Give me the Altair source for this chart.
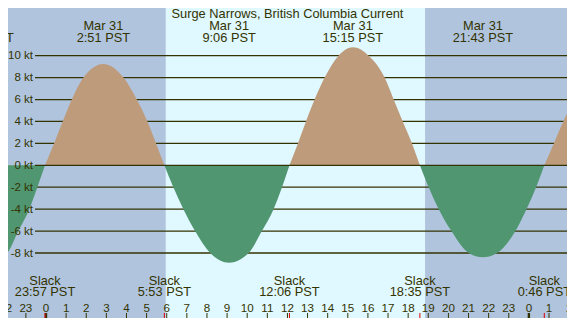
import altair as alt
import pandas as pd

# plot area = visible page area (575x326 window minus the 8px body margin on each side)
W, H = 559, 310
FONT = "Liberation Sans"
FS = 12.8
INK = "#333300"
NIGHT = "#B0C4DE"
DAY = "#E0F8FF"
FLOOD = "#BE9B7B"
EBB = "#509670"

TITLE = "Surge Narrows, British Columbia Current"

# hours since 00:00 Mar 31 (PST) and current speed (kt)
curve_t = [-3.1, -2.29, -1.93, -1.38, -0.83, -0.43, -0.05,
           0.40, 0.83, 1.28, 1.86, 2.85, 3.85, 4.51, 5.04, 5.47, 5.883,
           6.33, 6.83, 7.41, 8.16, 9.10, 10.07, 10.73, 11.31, 11.73, 12.10,
           12.52, 12.92, 13.35, 13.85, 14.54, 15.25, 16.04, 16.83, 17.28, 17.73, 18.19, 18.583,
           19.02, 19.52, 20.15, 21.01, 21.717, 22.42, 23.33, 23.88, 24.36, 24.767,
           25.24, 25.71, 26.27, 26.6]
curve_v = [-8.6, -8.34, -8.0, -6.0, -4.0, -2.0, 0.0,
           2, 4, 6, 8, 9.24, 8, 6, 4, 2, 0,
           -2, -4, -6, -8, -8.89, -8, -6, -4, -2, 0,
           2, 4, 6, 8, 10, 10.77, 10, 8, 6, 4, 2, 0,
           -2, -4, -6, -8, -8.39, -8, -6, -4, -2, 0,
           2, 4, 6, 7.1]

# extreme events (top labels)
ext_t = [-3.1, 2.85, 9.10, 15.25, 21.717]
ext_day = ["Mar 30", "Mar 31", "Mar 31", "Mar 31", "Mar 31"]
ext_time = ["20:54 PST", "2:51 PST", "9:06 PST", "15:15 PST", "21:43 PST"]

# slack events (bottom labels)
slack_t = [-0.05, 5.883, 12.10, 18.583, 24.767]
slack_time = ["23:57 PST", "5:53 PST", "12:06 PST", "18:35 PST", "0:46 PST"]

# daylight
sunrise = [5.95]
sunset = [18.84]

# speed grid
kt_levels = [10, 8, 6, 4, 2, 0, -2, -4, -6, -8]

# hour ticks
hour_t = [-2, -1, 0, 1, 2, 3, 4, 5, 6, 7, 8, 9, 10, 11, 12, 13, 14, 15, 16,
          17, 18, 19, 20, 21, 22, 23, 24, 25, 26]
hour_lab = ["22", "23", "0", "1", "2", "3", "4", "5", "6", "7", "8", "9", "10",
            "11", "12", "13", "14", "15", "16", "17", "18", "19", "20", "21",
            "22", "23", "0", "1", "2"]
midnight_t = [0, 24]

# ---- build tables ----
segs = [[]]
for t, v in zip(curve_t, curve_v):
    segs[-1].append((t, v))
    if v == 0:
        segs.append([(t, v)])
rows = []
for k, s in enumerate(segs):
    if len(s) < 2:
        continue
    kind = "flood" if max(v for _, v in s) > 0 else "ebb"
    for t, v in s:
        rows.append({"t": t, "v": v, "z": 0.0, "seg": k, "kind": kind})
df_curve = pd.DataFrame(rows)

df_ext = pd.DataFrame({"t": ext_t,
                       "lab": [[d, s] for d, s in zip(ext_day, ext_time)]})
df_slack = pd.DataFrame({"t": slack_t,
                         "lab": [["Slack", s] for s in slack_time]})
df_day = pd.DataFrame({"a": sunrise, "b": sunset})
df_grid = pd.DataFrame({"v": [k for k in kt_levels if k != 0]})
df_zero = pd.DataFrame({"v": [0]})
df_kt = pd.DataFrame({"v": kt_levels, "lab": [f"{k} kt" for k in kt_levels]})
df_hour = pd.DataFrame({"t": hour_t, "lab": hour_lab})
df_mid = pd.DataFrame({"t": midnight_t})
df_title = pd.DataFrame({"s": [TITLE]})

PX_H = 20.12
X0 = -38 / PX_H
X1 = (W - 38) / PX_H
Y_TOP = 157.3 / 10.96
Y_BOT = (157.3 - H) / 10.96

xs = alt.Scale(domain=[X0, X1], nice=False, zero=False)
ys = alt.Scale(domain=[Y_BOT, Y_TOP], nice=False, zero=False)


def X(f):
    return alt.X(f, type="quantitative", scale=xs, axis=None)


def Y(f):
    return alt.Y(f, type="quantitative", scale=ys, axis=None)


txt = dict(font=FONT, fontSize=FS, color=INK)

day = alt.Chart(df_day).mark_rect(color=DAY, clip=True).encode(
    x=X("a"), x2="b", y=alt.value(0), y2=alt.value(H))

grid = alt.Chart(df_grid).mark_rule(color=INK, strokeWidth=1.3).encode(
    y=Y("v"), x=alt.value(27), x2=alt.value(W))

area = alt.Chart(df_curve).mark_area(interpolate="monotone", clip=True).encode(
    x=X("t"), y=Y("v"), y2="z",
    color=alt.Color("kind:N", scale=alt.Scale(domain=["flood", "ebb"], range=[FLOOD, EBB]), legend=None),
    detail="seg:N")

zero = alt.Chart(df_zero).mark_rule(color=INK, strokeWidth=1.3).encode(
    y=Y("v"), x=alt.value(27), x2=alt.value(W))

kt = alt.Chart(df_kt).mark_text(align="right", baseline="middle", dy=0.6,
                                font=FONT, fontSize=11.5, color=INK).encode(
    y=Y("v"), x=alt.value(25), text="lab:N")

title = alt.Chart(df_title).mark_text(align="center", baseline="middle", **txt).encode(
    x=alt.value(279.5), y=alt.value(5.8), text="s:N")

ext = alt.Chart(df_ext).mark_text(align="center", baseline="top", lineHeight=11.8, **txt).encode(
    x=X("t"), y=alt.value(12.2), text="lab")

slk = alt.Chart(df_slack).mark_text(align="center", baseline="top", lineHeight=11.5, **txt).encode(
    x=X("t"), y=alt.value(266.6), text="lab")

hours = alt.Chart(df_hour).mark_text(align="center", baseline="middle", font=FONT, fontSize=11.6, color=INK).encode(
    x=X("t"), y=alt.value(300.8), text="lab:N")

hticks = alt.Chart(df_hour).mark_rule(color=INK, strokeWidth=1).encode(
    x=X("t"), y=alt.value(305), y2=alt.value(H))
mticks = alt.Chart(df_mid).mark_rule(color=INK, strokeWidth=2.4).encode(
    x=X("t"), y=alt.value(305), y2=alt.value(H))
sticks = alt.Chart(df_slack).mark_rule(color="#E00000", strokeWidth=1).encode(
    x=X("t"), y=alt.value(305), y2=alt.value(H))

chart = alt.layer(
    day, grid, area, zero, kt, title, ext, slk, hours, hticks, mticks, sticks
).properties(
    width=W, height=H, padding=0, autosize=alt.AutoSizeParams(type="none"),
    background=NIGHT,
).configure_view(stroke=None, fill=NIGHT)

chart.save("out.html", embed_options={"renderer": "svg", "actions": False})
